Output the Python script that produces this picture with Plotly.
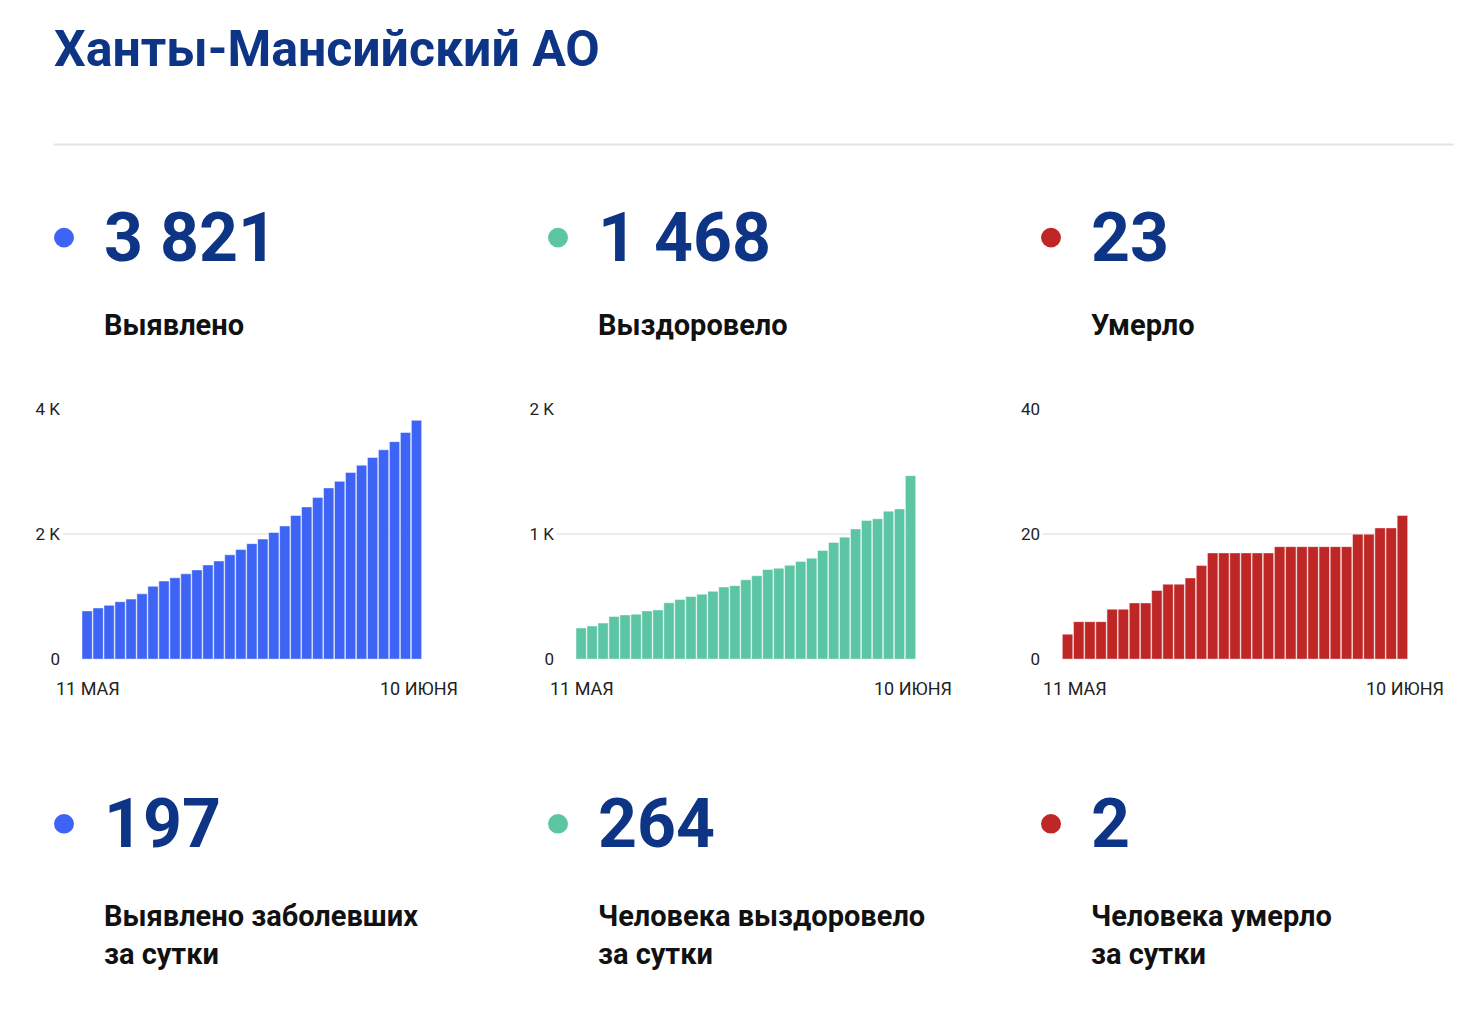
import plotly.graph_objects as go

days = list(range(31))
confirmed = [772,819,861,919,961,1045,1165,1249,1302,1365,1428,1507,1570,1669,1753,1848,1921,2026,2131,2299,2436,2588,2740,2845,2987,3102,3228,3349,3480,3627,3821]
recovered = [249,265,289,341,354,360,386,394,451,478,501,520,543,577,588,635,667,717,727,751,782,808,869,934,976,1042,1110,1123,1184,1202,1468]
deaths = [4,6,6,6,8,8,9,9,11,12,12,13,15,17,17,17,17,17,17,18,18,18,18,18,18,18,20,20,21,21,23]
first_label, last_label = "11 МАЯ", "10 ИЮНЯ"
totals = ["3 821", "1 468", "23"]
total_labels = ["Выявлено", "Выздоровело", "Умерло"]
daily = ["197", "264", "2"]
daily_labels = ["Выявлено заболевших<br>за сутки", "Человека выздоровело<br>за сутки", "Человека умерло<br>за сутки"]
colors = ["#3d64f4", "#5bc5a4", "#bf2727"]
series = [confirmed, recovered, deaths]
yticks = [([0, 2000, 4000], ["0", "2 K", "4 K"], 4000),
          ([0, 1000, 2000], ["0", "1 K", "2 K"], 2000),
          ([0, 20, 40], ["0", "20", "40"], 40)]

W, H = 1484, 1016
NAVY = "#0e3585"
fig = go.Figure()
doms = [(55, 414), (549, 908), (1035, 1400)]
colx = [46, 540, 1033]
for i in range(3):
    ax = "" if i == 0 else str(i + 1)
    fig.add_trace(go.Bar(x=days, y=series[i], marker=dict(color=colors[i], line=dict(width=0.8, color="rgba(255,255,255,0.6)")),
                         xaxis="x" + ax, yaxis="y" + ax, showlegend=False, hoverinfo="skip"))
    tv, tt, top = yticks[i]
    fig.layout["xaxis" + ax] = dict(domain=[doms[i][0] / W, doms[i][1] / W], range=[-2.2, 30.5],
                                    showticklabels=False, showgrid=False, zeroline=False, anchor="y" + ax)
    fig.layout["yaxis" + ax] = dict(domain=[1 - 654 / H, 1 - 399 / H], range=[0, top], tickvals=tv, ticktext=tt,
                                    showgrid=True, gridcolor="#ececec", gridwidth=1.5, zeroline=False,
                                    tickfont=dict(size=17, color="#222"), anchor="x" + ax, ticklabelstandoff=2)
    fig.add_annotation(text=first_label, xref="paper", yref="paper", x=(colx[i]) / W, y=1 - 684 / H,
                       xanchor="left", yanchor="middle", showarrow=False, font=dict(size=18, color="#222"))
    fig.add_annotation(text=last_label, xref="paper", yref="paper", x=(doms[i][1] + 38) / W, y=1 - 684 / H,
                       xanchor="right", yanchor="middle", showarrow=False, font=dict(size=18, color="#222"))
    # dots
    for yy in (224, 822):
        fig.add_shape(type="circle", xref="paper", yref="paper",
                      x0=(colx[i] + 0) / W, x1=(colx[i] + 20) / W,
                      y0=1 - (yy + 10) / H, y1=1 - (yy - 10) / H,
                      fillcolor=colors[i], line=dict(width=0))
    fig.add_annotation(text="<b>%s</b>" % totals[i], xref="paper", yref="paper", x=(colx[i] + 48) / W, y=1 - 224 / H,
                       xanchor="left", yanchor="middle", showarrow=False, font=dict(size=68, color=NAVY))
    fig.add_annotation(text="<b>%s</b>" % total_labels[i], xref="paper", yref="paper", x=(colx[i] + 48) / W, y=1 - 313 / H,
                       xanchor="left", yanchor="middle", showarrow=False, font=dict(size=29, color="#111"))
    fig.add_annotation(text="<b>%s</b>" % daily[i], xref="paper", yref="paper", x=(colx[i] + 48) / W, y=1 - 822 / H,
                       xanchor="left", yanchor="middle", showarrow=False, font=dict(size=68, color=NAVY))
    fig.add_annotation(text="<b>%s</b>" % daily_labels[i], xref="paper", yref="paper", x=(colx[i] + 48) / W, y=1 - 935 / H,
                       xanchor="left", yanchor="middle", align="left", showarrow=False, font=dict(size=29, color="#111"))

fig.add_annotation(text="<b>Ханты-Мансийский АО</b>", xref="paper", yref="paper", x=44 / W, y=1 - 32 / H,
                   xanchor="left", yanchor="middle", showarrow=False, font=dict(size=50, color=NAVY))
fig.add_shape(type="line", xref="paper", yref="paper", x0=46 / W, x1=1446 / W, y0=1 - 129 / H, y1=1 - 129 / H,
              line=dict(color="#e3e3e3", width=2))
fig.update_layout(width=W, height=H, margin=dict(l=0, r=0, t=0, b=0), bargap=0.06,
                  paper_bgcolor="white", plot_bgcolor="white", font=dict(family="Roboto"))
fig.write_html("out.html")
